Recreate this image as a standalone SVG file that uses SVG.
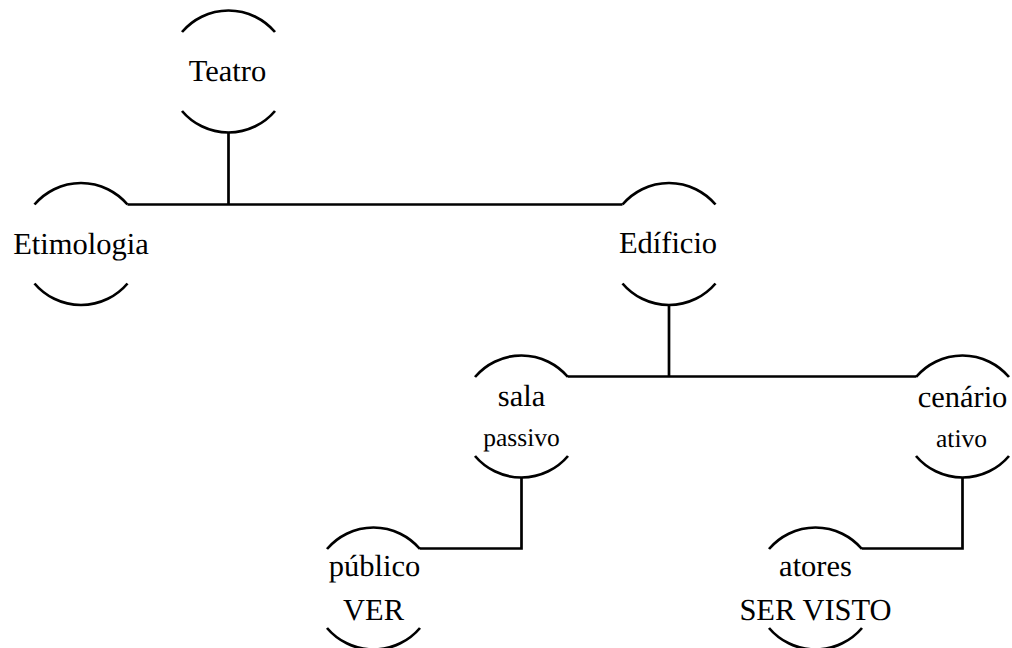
<svg xmlns="http://www.w3.org/2000/svg" width="1012" height="648" viewBox="0 0 1012 648">
<style>
.arc{fill:none;stroke:#000;stroke-width:2.7;stroke-linecap:butt}
.conn{fill:none;stroke:#000;stroke-width:2.7;stroke-linejoin:miter}
.t{font-family:"Times New Roman","Liberation Serif",serif;font-size:30.5px;fill:#000;text-anchor:middle;text-rendering:geometricPrecision}
.s{font-family:"Times New Roman","Liberation Serif",serif;font-size:25.5px;fill:#000;text-anchor:middle;text-rendering:geometricPrecision}
</style>
<rect width="1012" height="648" fill="#fff"/>
<g id="connectors">
<path class="conn" d="M228.5 132.5 V204.5 M127.5 204.5 H622.5"/>
<path class="conn" d="M669 304.5 V376.5 M568 376.5 H916"/>
<path class="conn" d="M521.5 477 V548.5 H420"/>
<path class="conn" d="M962.5 477 V548.5 H862"/>
</g>
<g id="teatro" transform="translate(228.5,71.5)">
<path class="arc" d="M-46.5 -39.5 A61 61 0 0 1 46.5 -39.5 M-46.5 39.5 A61 61 0 0 0 46.5 39.5"/>
<text class="t" x="-1" y="9.5">Teatro</text>
</g>
<g id="etimologia" transform="translate(81,244)">
<path class="arc" d="M-46.5 -39.5 A61 61 0 0 1 46.5 -39.5 M-46.5 39.5 A61 61 0 0 0 46.5 39.5"/>
<text class="t" x="0" y="9.5">Etimologia</text>
</g>
<g id="edificio" transform="translate(669,244)">
<path class="arc" d="M-46.5 -39.5 A61 61 0 0 1 46.5 -39.5 M-46.5 39.5 A61 61 0 0 0 46.5 39.5"/>
<text class="t" x="-1" y="9">Edíficio</text>
</g>
<g id="sala" transform="translate(521.5,416.5)">
<path class="arc" d="M-46.5 -39.5 A61 61 0 0 1 46.5 -39.5 M-46.5 39.5 A61 61 0 0 0 46.5 39.5"/>
<text class="t" x="0" y="-11">sala</text>
<text class="s" x="0" y="29">passivo</text>
</g>
<g id="cenario" transform="translate(962.5,416.5)">
<path class="arc" d="M-46.5 -39.5 A61 61 0 0 1 46.5 -39.5 M-46.5 39.5 A61 61 0 0 0 46.5 39.5"/>
<text class="t" x="0" y="-10">cenário</text>
<text class="s" x="-1" y="30">ativo</text>
</g>
<g id="publico" transform="translate(373.5,588.5)">
<path class="arc" d="M-46.5 -39.5 A61 61 0 0 1 46.5 -39.5 M-46.5 39.5 A61 61 0 0 0 46.5 39.5"/>
<text class="t" x="1" y="-13">público</text>
<text class="t" x="0" y="31">VER</text>
</g>
<g id="atores" transform="translate(815.5,588.5)">
<path class="arc" d="M-46.5 -39.5 A61 61 0 0 1 46.5 -39.5 M-46.5 39.5 A61 61 0 0 0 46.5 39.5"/>
<text class="t" x="0" y="-13">atores</text>
<text class="t" x="0" y="31">SER VISTO</text>
</g>
</svg>
